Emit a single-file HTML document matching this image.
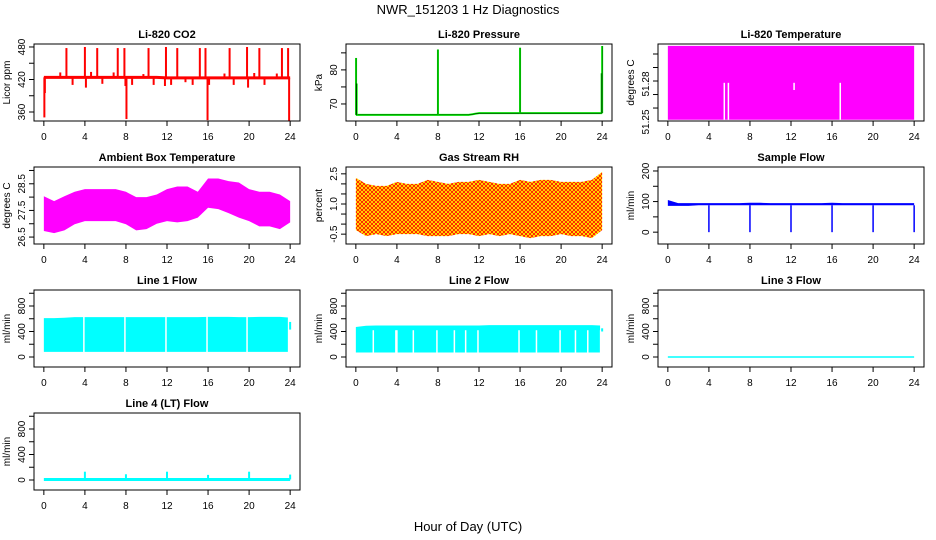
<!DOCTYPE html>
<html><head><meta charset="utf-8"><style>
html,body{margin:0;padding:0;background:#fff;width:936px;height:540px;overflow:hidden}
svg{display:block;font-family:"Liberation Sans",sans-serif}
</style></head><body>
<svg id="chart" width="936" height="540" viewBox="0 0 936 540">
<defs>
<pattern id="rhpat" width="4" height="4" patternUnits="userSpaceOnUse">
<rect width="4" height="4" fill="#ffff00"/>
<path d="M0,0 L4,4 M4,0 L0,4" stroke="#ff0000" stroke-width="0.8"/>
</pattern>
</defs>
<text x="468" y="14" text-anchor="middle" font-size="13">NWR_151203  1 Hz Diagnostics</text>
<text x="468" y="531" text-anchor="middle" font-size="13">Hour of Day (UTC)</text>
</svg>
<script>
const hours = [0,1,2,3,4,5,6,7,8,9,10,11,12,13,14,15,16,17,18,19,20,21,22,23,24];
const xTicks = [0,4,8,12,16,20,24];
// CO2
const co2Base = [424,424,424,424,424,424,424,424,424,424,424,424,423,423,423,423,423,423,423,423,423,423,423,423,423];
const co2SpikeT = [0.05,0.1,1.6,2.2,2.8,4.0,4.1,4.6,5.2,5.7,6.8,7.2,7.85,7.95,8.05,8.6,9.7,10.2,10.7,11.8,11.9,12.4,13.0,13.8,14.5,15.2,15.75,15.95,16.1,17.6,18.1,18.5,19.8,19.9,20.5,21.0,21.5,22.7,23.2,23.8,23.9];
const co2SpikeV = [350,395,433,478,410,480,405,434,478,412,433,478,478,408,347,410,430,478,410,408,480,410,478,415,410,478,478,345,410,431,478,410,480,405,432,478,410,431,478,478,342];
// Pressure
const presBase = [66.8,66.8,66.8,66.8,66.8,66.8,66.8,66.8,66.8,66.8,66.8,66.8,67.3,67.3,67.3,67.3,67.3,67.3,67.3,67.3,67.3,67.3,67.3,67.3,67.3];
const presSpikeT = [0.02,0.08,8.0,16.0,23.95,24.0];
const presSpikeV = [83.5,76,86,86.5,79,87];
// Li-820 temperature
const tempLo = [51.237,51.237,51.237,51.237,51.237,51.237,51.237,51.237,51.237,51.237,51.237,51.237,51.237,51.237,51.237,51.237,51.237,51.237,51.237,51.237,51.237,51.237,51.237,51.237,51.237];
const tempHi = [51.319,51.319,51.319,51.319,51.319,51.319,51.319,51.319,51.319,51.319,51.319,51.319,51.319,51.319,51.319,51.319,51.319,51.319,51.319,51.319,51.319,51.319,51.319,51.319,51.319];
const tempGapT = [5.5,5.9,12.3,16.8];
const tempGapLo = [51.237,51.237,51.270,51.237];
const tempGapHi = [51.278,51.278,51.278,51.278];
// Ambient box temperature
const ambHi = [28.03,27.85,28.03,28.2,28.3,28.3,28.3,28.3,28.2,28.0,28.0,28.1,28.3,28.4,28.4,28.2,28.7,28.7,28.6,28.55,28.3,28.2,28.2,28.1,27.85];
const ambLo = [26.73,26.65,26.75,26.98,27.1,27.1,27.1,27.1,26.98,26.75,26.8,27.0,27.1,27.05,27.1,27.23,27.6,27.55,27.4,27.23,27.1,26.9,26.9,26.8,27.05];
// Gas stream RH
const rhHi = [2.3,2.0,1.9,1.9,2.1,2.0,2.0,2.2,2.1,2.0,2.1,2.1,2.2,2.1,2.0,2.0,2.2,2.1,2.2,2.2,2.1,2.1,2.1,2.2,2.6];
const rhLo = [-0.3,-0.6,-0.5,-0.6,-0.5,-0.5,-0.5,-0.6,-0.6,-0.6,-0.5,-0.5,-0.6,-0.5,-0.6,-0.5,-0.6,-0.7,-0.6,-0.6,-0.5,-0.6,-0.6,-0.7,-0.3];
// Sample flow
const sfHi = [105,95,95,95,95,95,95,95,96,96,95,95,95,95,95,95,96,95,95,95,95,95,95,95,95];
const sfLo = [86,86,86,88,88,88,88,88,88,88,88,88,88,88,88,88,88,88,88,88,88,88,88,88,88];
const sfDropT = [4,8,12,16,20,24];
const sfDropV = [0,0,0,0,0,0];
// Line flows
const l1Hi = [610,610,615,625,625,625,625,625,625,625,625,625,625,625,625,625,630,630,630,625,625,630,630,630,620];
const l1Lo = [80,80,80,80,80,80,80,80,80,80,80,80,80,80,80,80,80,80,80,80,80,80,80,80,80];
const l1GapT = [3.9,7.9,11.9,15.9,19.8,23.85];
const l1EndT = [24.0];
const l1EndLo = [430];
const l1EndHi = [550];
const l2Hi = [470,490,495,495,495,495,495,495,495,495,495,495,495,500,500,500,500,500,500,500,500,500,500,500,495];
const l2Lo = [70,70,70,70,70,70,70,70,70,70,70,70,70,70,70,70,70,70,70,70,70,70,70,70,70];
const l2GapT = [1.7,3.9,4.0,5.6,7.9,9.6,10.7,11.9,15.9,17.6,19.9,21.4,22.6,23.85];
const l2EndT = [24.0];
const l2EndLo = [400];
const l2EndHi = [450];
const l3Val = [0,0,0,0,0,0,0,0,0,0,0,0,0,0,0,0,0,0,0,0,0,0,0,0,0];
const l4Val = [8,8,8,8,8,8,8,8,8,8,8,8,8,8,8,8,8,8,8,8,8,8,8,8,8];
const l4SpikeT = [4,8,12,16,20,24];
const l4SpikeV = [130,90,130,80,130,85];

const NS = "http://www.w3.org/2000/svg";
const svg = document.getElementById('chart');
function mk(tag, attrs, parent){
  const e = document.createElementNS(NS, tag);
  for (const k in attrs) e.setAttribute(k, attrs[k]);
  (parent||svg).appendChild(e);
  return e;
}
const colL = [34,346,658], rowT = [44,167,290,413], W = 266, H = 77;

function panel(o){
  const L = colL[o.c], T = rowT[o.r];
  const g = mk('g', {});
  
  
  const xs = v => L + (v + 0.96) / 25.92 * W;
  const ys = v => T + H - (v - o.ymin) / (o.ymax - o.ymin) * H;
  const t = mk('text', {x: L + W/2, y: T - 6, 'text-anchor':'middle', 'font-size':'11', 'font-weight':'bold'}, g);
  t.textContent = o.title;
  
  
  const yl = mk('text', {transform:`translate(${L-24},${T+H/2}) rotate(-90)`, 'text-anchor':'middle', 'font-size':'10'}, g);
  yl.textContent = o.ylab;
  
  
  xTicks.forEach(v => {
    const x = xs(v);
    mk('line', {x1:x, x2:x, y1:T+H, y2:T+H+5, stroke:'#000'}, g);
    const tl = mk('text', {x:x, y:T+H+19, 'text-anchor':'middle', 'font-size':'10'}, g);
    tl.textContent = v;
    
    
  });
  o.yticks.forEach(v => {
    const y = ys(v);
    mk('line', {x1:L-5, x2:L, y1:y, y2:y, stroke:'#000'}, g);
  });
  o.ylabels.forEach((v, i) => {
    const y = o.ylabelPos ? T + o.ylabelPos[i] : ys(v);
    const tl = mk('text', {transform:`translate(${L-9},${y}) rotate(-90)`, 'text-anchor':'middle', 'font-size':'10'}, g);
    tl.textContent = v;
    
    
  });
  const clipId = 'clip' + o.r + o.c;
  const cp = mk('clipPath', {id: clipId}, g);
  mk('rect', {x:L, y:T, width:W, height:H}, cp);
  const d = mk('g', {'clip-path':`url(#${clipId})`}, g);
  o.draw(d, xs, ys);
  mk('rect', {x:L, y:T, width:W, height:H, fill:'none', stroke:'#000'}, g);
}
function band(p, xs, ys, lo, hi, fill, lastT){
  const hx = hours.map(h => (h === 24 && lastT !== undefined) ? lastT : h);
  let pts = hx.map((h,i)=>xs(h)+','+ys(hi[i]));
  pts = pts.concat(hx.slice().reverse().map((h,j)=>xs(h)+','+ys(lo[hours.length-1-j])));
  const e = mk('polygon', {points: pts.join(' '), fill: fill}, p);
  
  
}
function line(p, xs, ys, vals, color, w){
  const e = mk('polyline', {points: hours.map((h,i)=>xs(h)+','+ys(vals[i])).join(' '), fill:'none', stroke:color, 'stroke-width':w}, p);
  
  
}
function spikes(p, xs, ys, T, V, base, color, w){
  T.forEach((t,i)=>{
    const b = typeof base === 'number' ? base : base[Math.round(t)];
    const e = mk('line', {x1:xs(t), x2:xs(t), y1:ys(b), y2:ys(V[i]), stroke:color, 'stroke-width':w}, p);
    
    
  });
}
function segs(p, xs, ys, T, lo, hi, color, w){
  T.forEach((t,i)=>{
    const e = mk('line', {x1:xs(t), x2:xs(t), y1:ys(lo[i]), y2:ys(hi[i]), stroke:color, 'stroke-width':w}, p);
    
    
  });
}
function gaps(p, xs, ys, T, lo, hi, w){
  T.forEach((t,i)=>{
    const e = mk('line', {x1:xs(t), x2:xs(t), y1:ys(lo), y2:ys(hi), stroke:'#fff', 'stroke-width':w}, p);
    
    
  });
}

panel({name:'panel-co2', r:0, c:0, title:'Li-820 CO2', ylab:'Licor ppm', ymin:343.4, ymax:485.5,
  yticks:[360,390,420,450,480], ylabels:[360,420,480],
  draw:(p,xs,ys)=>{ line(p,xs,ys,co2Base,'#ff0000',3); spikes(p,xs,ys,co2SpikeT,co2SpikeV,co2Base,'#ff0000',2); }});
panel({name:'panel-pressure', r:0, c:1, title:'Li-820 Pressure', ylab:'kPa', ymin:65.0, ymax:87.6,
  yticks:[70,75,80,85], ylabels:[70,80],
  draw:(p,xs,ys)=>{ line(p,xs,ys,presBase,'#00ff00',2); line(p,xs,ys,presBase,'#000',0.6);
    spikes(p,xs,ys,presSpikeT,presSpikeV,presBase,'#00ff00',2); spikes(p,xs,ys,presSpikeT,presSpikeV,presBase,'#000',0.5); }});
panel({name:'panel-li820-temperature', r:0, c:2, title:'Li-820 Temperature', ylab:'degrees C', ymin:51.2356, ymax:51.3211,
  yticks:[51.25,51.265,51.28,51.295,51.31], ylabels:[51.25,51.28], ylabelPos:[78,40],
  draw:(p,xs,ys)=>{ band(p,xs,ys,tempLo,tempHi,'#ff00ff');
    tempGapT.forEach((t,i)=>{ const e=mk('line',{x1:xs(t),x2:xs(t),y1:ys(tempGapLo[i]),y2:ys(tempGapHi[i]),stroke:'#fff','stroke-width':1.5},p);
        }); }});
panel({name:'panel-ambient-temperature', r:1, c:0, title:'Ambient Box Temperature', ylab:'degrees C', ymin:26.24, ymax:29.13,
  yticks:[26.5,27,27.5,28,28.5,29], ylabels:[26.5,27.5,28.5],
  draw:(p,xs,ys)=>{ band(p,xs,ys,ambLo,ambHi,'#ff00ff'); }});
panel({name:'panel-gas-rh', r:1, c:1, title:'Gas Stream RH', ylab:'percent', ymin:-0.99, ymax:2.84,
  yticks:[-0.5,0,0.5,1,1.5,2,2.5], ylabels:['-0.5','1.0','2.5'],
  draw:(p,xs,ys)=>{ band(p,xs,ys,rhLo,rhHi,'url(#rhpat)'); }});
panel({name:'panel-sample-flow', r:1, c:2, title:'Sample Flow', ylab:'ml/min', ymin:-38.7, ymax:213,
  yticks:[0,50,100,150,200], ylabels:[0,100,200],
  draw:(p,xs,ys)=>{ band(p,xs,ys,sfLo,sfHi,'#0000ff'); spikes(p,xs,ys,sfDropT,sfDropV,88,'#0000ff',1.5); }});
panel({name:'panel-line1-flow', r:2, c:0, title:'Line 1 Flow', ylab:'ml/min', ymin:-157, ymax:1051,
  yticks:[0,200,400,600,800,1000], ylabels:[0,400,800],
  draw:(p,xs,ys)=>{ band(p,xs,ys,l1Lo,l1Hi,'#00ffff',23.8); gaps(p,xs,ys,l1GapT,60,660,1.5); segs(p,xs,ys,l1EndT,l1EndLo,l1EndHi,'#00ffff',2); }});
panel({name:'panel-line2-flow', r:2, c:1, title:'Line 2 Flow', ylab:'ml/min', ymin:-157, ymax:1051,
  yticks:[0,200,400,600,800,1000], ylabels:[0,400,800],
  draw:(p,xs,ys)=>{ band(p,xs,ys,l2Lo,l2Hi,'#00ffff',23.8); gaps(p,xs,ys,l2GapT,60,420,1.5); segs(p,xs,ys,l2EndT,l2EndLo,l2EndHi,'#00ffff',2); }});
panel({name:'panel-line3-flow', r:2, c:2, title:'Line 3 Flow', ylab:'ml/min', ymin:-157, ymax:1051,
  yticks:[0,200,400,600,800,1000], ylabels:[0,400,800],
  draw:(p,xs,ys)=>{ line(p,xs,ys,l3Val,'#00ffff',1.5); }});
panel({name:'panel-line4-flow', r:3, c:0, title:'Line 4 (LT) Flow', ylab:'ml/min', ymin:-157, ymax:1051,
  yticks:[0,200,400,600,800,1000], ylabels:[0,400,800],
  draw:(p,xs,ys)=>{ line(p,xs,ys,l4Val,'#00ffff',3); spikes(p,xs,ys,l4SpikeT,l4SpikeV,l4Val,'#00ffff',2); }});
</script>
</body></html>
